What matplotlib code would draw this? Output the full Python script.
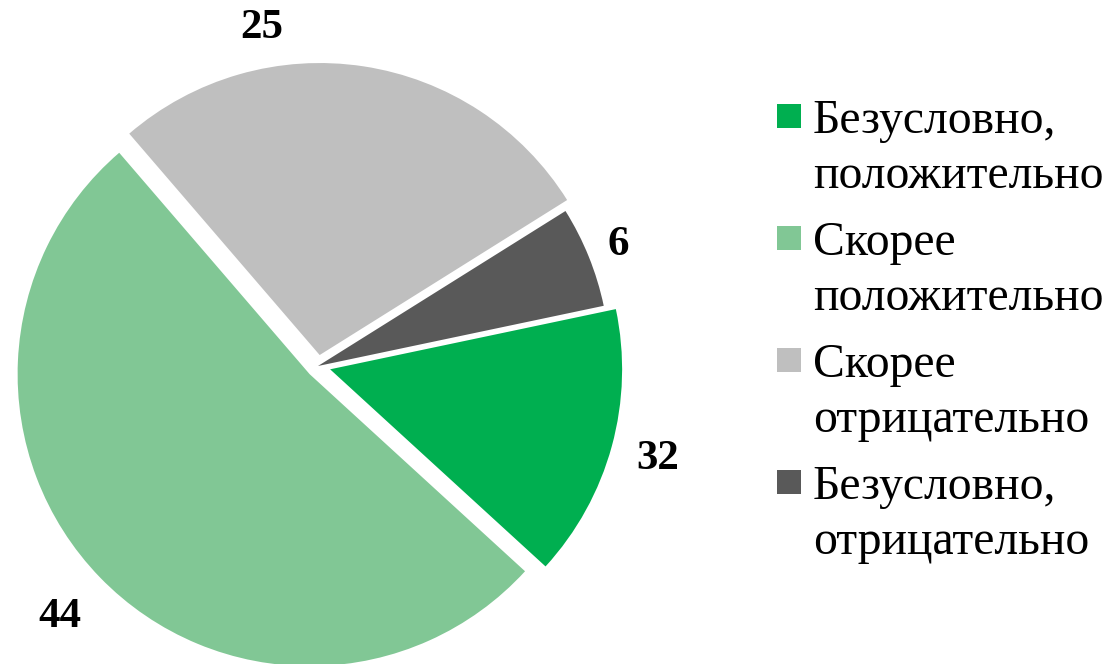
import matplotlib.pyplot as plt
from matplotlib.patches import Rectangle
import numpy as np

# slice shares as drawn (the printed labels are different numbers)
shares = [15.1, 51.9, 27.4, 5.6]
label_vals = [32, 44, 25, 6]
categories = ['Безусловно,\nположительно',
              'Скорее\nположительно',
              'Скорее\nотрицательно',
              'Безусловно,\nотрицательно']
colors = ['#00AF50', '#81C795', '#BFBFBF', '#595959']

W, H = 1112, 664
R = 292.0          # pie radius in px
cx, cy = 318, 366  # pie centre in px

fig = plt.figure(figsize=(W / 100, H / 100), dpi=100)
ax = fig.add_axes([0, 0, 1, 1])

wedges, _ = ax.pie(shares, colors=colors, startangle=11.9, counterclock=False,
                   explode=[0.043, 0.04, 0.038, 0.0], radius=1,
                   wedgeprops=dict(linewidth=0))

ax.set_xlim(-cx / R, (W - cx) / R)
ax.set_ylim((cy - H) / R, cy / R)
ax.set_aspect('auto')
ax.axis('off')

# value labels outside each slice
lab_r = [1.205, 1.233, 1.174, 1.11]
lab_shift = [0, 0, 18, 0]  # degrees, "25" sits off its slice middle
for w, v, r, s in zip(wedges, label_vals, lab_r, lab_shift):
    mid = np.deg2rad((w.theta1 + w.theta2) / 2 + s)
    ax.text(r * np.cos(mid), r * np.sin(mid), str(v), ha='center', va='center',
            fontsize=31, fontweight='bold', family='Liberation Serif')

# legend drawn by hand (two-line entries, marker on first line)
def px(x, y):
    return x / W, 1 - y / H

for i, (lab, c) in enumerate(zip(categories, colors)):
    y0 = 116 + i * 122
    x0, y1 = px(777, y0 + 12)
    fig.add_artist(Rectangle((x0, y1), 24 / W, 24 / H, transform=fig.transFigure,
                             facecolor=c, edgecolor='none'))
    for j, line in enumerate(lab.split('\n')):
        tx, ty = px(813, 133 + i * 122 + j * 55)
        fig.text(tx, ty, line, ha='left', va='baseline', fontsize=34.3,
                 family='Liberation Serif')

fig.savefig('out.png', dpi=100)
